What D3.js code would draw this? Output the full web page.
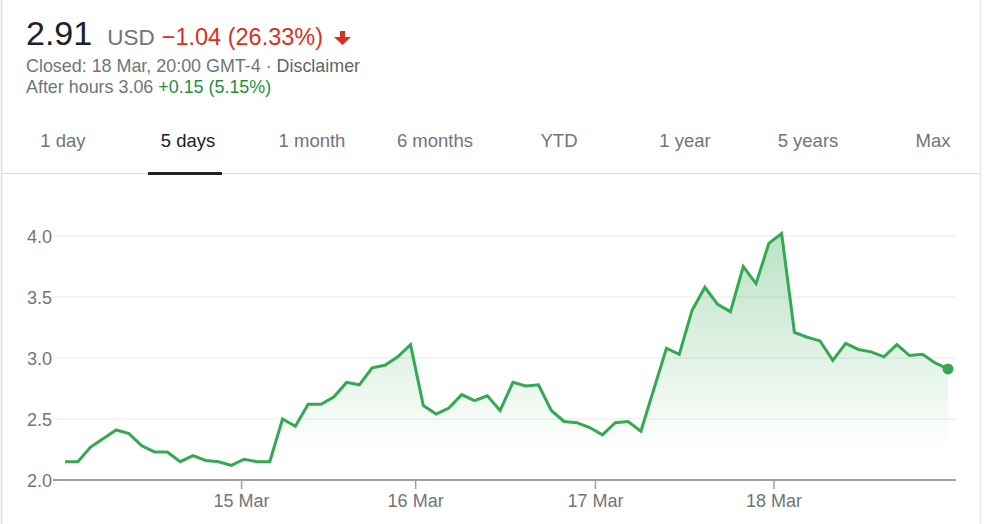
<!DOCTYPE html>
<html>
<head>
<meta charset="utf-8">
<script src="https://cdn.jsdelivr.net/npm/d3@7"></script>
<style>
  body { margin: 0; background: #fff; font-family: Arial, "Liberation Sans", sans-serif; }
  svg text { font-family: Arial, "Liberation Sans", sans-serif; }
</style>
</head>
<body>
<div id="chart"></div>
<script>
let width = 998
let height = 524

// price every ~30 min over 5 trading days
let prices = [
  2.15, 2.15, 2.27, 2.34, 2.41, 2.38, 2.28, 2.23, 2.23, 2.15,
  2.20, 2.16, 2.15, 2.12, 2.17, 2.15, 2.15, 2.50, 2.44, 2.62,
  2.62, 2.68, 2.80, 2.78, 2.92, 2.94, 3.01, 3.11, 2.61, 2.54,
  2.59, 2.70, 2.65, 2.69, 2.57, 2.80, 2.77, 2.78, 2.57, 2.48,
  2.47, 2.43, 2.37, 2.47, 2.48, 2.40, 2.74, 3.08, 3.03, 3.39,
  3.58, 3.44, 3.38, 3.75, 3.61, 3.94, 4.02, 3.21, 3.17, 3.14,
  2.98, 3.12, 3.07, 3.05, 3.01, 3.11, 3.02, 3.03, 2.96, 2.91
]
let dayLabels = ['15 Mar', '16 Mar', '17 Mar', '18 Mar']
let dayIndex = [13.8, 27.4, 41.45, 55.4]
let yTicks = [2.0, 2.5, 3.0, 3.5, 4.0]
let tabs = ['1 day', '5 days', '1 month', '6 months', 'YTD', '1 year', '5 years', 'Max']
let tabCenters = [63, 188, 312, 435, 559, 685, 808, 933]
let activeTab = '5 days'

let green = '#34a853'
let grey = '#70757a'

let svg = d3
  .select('#chart')
  .append('svg')
  .attr('width', width)
  .attr('height', height)

// card borders
svg.append('line')
  .attr('x1', 1.5).attr('x2', 1.5).attr('y1', 0).attr('y2', height)
  .attr('stroke', '#e0e0e0').attr('stroke-width', 1.5)
svg.append('line')
  .attr('x1', 980.5).attr('x2', 980.5).attr('y1', 0).attr('y2', height)
  .attr('stroke', '#e8e8e8').attr('stroke-width', 1.5)

// header
let head = svg.append('text').attr('x', 26).attr('y', 45)
head.append('tspan').text('2.91')
  .attr('font-size', 34).attr('fill', '#202124')
head.append('tspan').text('USD')
  .attr('dx', 15).attr('font-size', 22.5).attr('fill', grey)
head.append('tspan').text('\u22121.04 (26.33%)')
  .attr('dx', 7).attr('font-size', 23.5).attr('fill', '#d93025')

// down arrow
svg.append('path')
  .attr('d', 'M340,31 v6 h-6 l8.5,8 l8.5,-8 h-6 v-6 z')
  .attr('fill', '#d93025')

let line2 = svg.append('text').attr('x', 26).attr('y', 72)
  .attr('font-size', 17.9).attr('fill', grey)
line2.append('tspan').text('Closed: 18 Mar, 20:00 GMT-4 \u00b7 ')
line2.append('tspan').text('Disclaimer').attr('fill', '#5f6368')

let line3 = svg.append('text').attr('x', 26).attr('y', 93)
  .attr('font-size', 17.9).attr('fill', grey)
line3.append('tspan').text('After hours 3.06 ')
line3.append('tspan').text('+0.15 (5.15%)').attr('fill', '#1e8e3e')

// tabs
svg.selectAll('.tab')
  .data(tabs)
  .enter()
  .append('text')
  .attr('class', 'tab')
  .attr('x', (d, i) => tabCenters[i])
  .attr('y', 147)
  .attr('text-anchor', 'middle')
  .attr('font-size', 18.5)
  .attr('fill', d => d === activeTab ? '#202124' : grey)
  .text(d => d)

svg.append('line')
  .attr('x1', 2).attr('x2', 980).attr('y1', 173.5).attr('y2', 173.5)
  .attr('stroke', '#dadce0').attr('stroke-width', 1)

let ai = tabs.indexOf(activeTab)
svg.append('rect')
  .attr('x', tabCenters[ai] - 40)
  .attr('y', 172)
  .attr('width', 74)
  .attr('height', 3)
  .attr('fill', '#202124')

// chart
let x = d3.scaleLinear().domain([0, prices.length - 1]).range([65, 948])
let y = d3.scaleLinear().domain([2, 4]).range([480, 236])
let left = 53
let right = 956

let defs = svg.append('defs')
let grad = defs.append('linearGradient')
  .attr('id', 'fillGrad')
  .attr('gradientUnits', 'userSpaceOnUse')
  .attr('x1', 0).attr('x2', 0)
  .attr('y1', y(d3.max(prices))).attr('y2', y(2.25))
grad.append('stop').attr('offset', 0).attr('stop-color', green).attr('stop-opacity', 0.34)
grad.append('stop').attr('offset', 1).attr('stop-color', green).attr('stop-opacity', 0)

// grid lines
svg.selectAll('.grid')
  .data(yTicks.slice(1))
  .enter()
  .append('line')
  .attr('class', 'grid')
  .attr('x1', left).attr('x2', right)
  .attr('y1', d => y(d)).attr('y2', d => y(d))
  .attr('stroke', '#f1f1f1').attr('stroke-width', 1.5)

let area = d3.area()
  .x((d, i) => x(i))
  .y0(y(2))
  .y1(d => y(d))

svg.append('path')
  .datum(prices)
  .attr('d', area)
  .attr('fill', 'url(#fillGrad)')

let line = d3.line()
  .x((d, i) => x(i))
  .y(d => y(d))

svg.append('path')
  .datum(prices)
  .attr('d', line)
  .attr('fill', 'none')
  .attr('stroke', green)
  .attr('stroke-width', 3)
  .attr('stroke-linejoin', 'miter')

svg.append('circle')
  .attr('cx', x(prices.length - 1))
  .attr('cy', y(prices[prices.length - 1]))
  .attr('r', 5.5)
  .attr('fill', green)

// y axis labels
svg.selectAll('.ylab')
  .data(yTicks)
  .enter()
  .append('text')
  .attr('class', 'ylab')
  .attr('x', 52)
  .attr('y', d => y(d) + 6.5)
  .attr('text-anchor', 'end')
  .attr('font-size', 18)
  .attr('fill', grey)
  .text(d => d.toFixed(1))

// x axis
svg.append('line')
  .attr('x1', left).attr('x2', right)
  .attr('y1', y(2)).attr('y2', y(2))
  .attr('stroke', '#9aa0a6').attr('stroke-width', 2)

svg.selectAll('.xtick')
  .data(dayIndex)
  .enter()
  .append('line')
  .attr('class', 'xtick')
  .attr('x1', d => x(d)).attr('x2', d => x(d))
  .attr('y1', y(2)).attr('y2', y(2) + 9)
  .attr('stroke', '#9aa0a6').attr('stroke-width', 1.5)

svg.selectAll('.xlab')
  .data(dayIndex)
  .enter()
  .append('text')
  .attr('class', 'xlab')
  .attr('x', d => x(d))
  .attr('y', 507)
  .attr('text-anchor', 'middle')
  .attr('font-size', 18)
  .attr('fill', grey)
  .text((d, i) => dayLabels[i])
</script>
</body>
</html>
